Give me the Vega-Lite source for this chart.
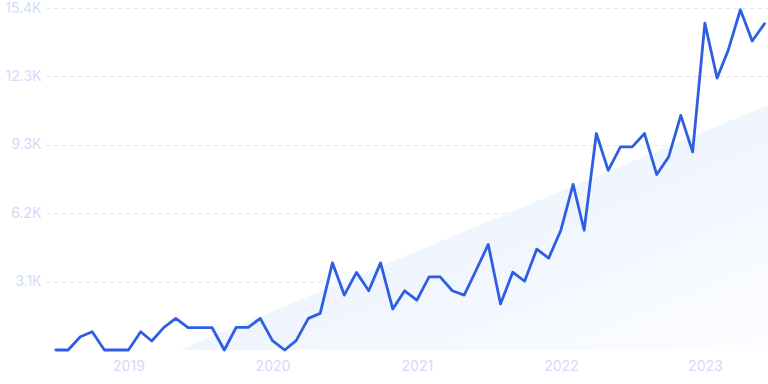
{
  "$schema": "https://vega.github.io/schema/vega-lite/v6.json",
  "width": 722,
  "height": 342,
  "autosize": {"type": "none"},
  "padding": {"left": 46, "top": 8, "right": 0, "bottom": 34},
  "background": "white",
  "config": {"view": {"stroke": null}, "font": "Inter"},
  "datasets": {
    "trend": [
      {"date": "2019-05-11", "value": 0},
      {"date": "2023-06-10", "value": 11046}
    ],
    "series": [
      {"date": "2018-07-01", "value": 0},
      {"date": "2018-08-01", "value": 0},
      {"date": "2018-09-01", "value": 600},
      {"date": "2018-10-01", "value": 825},
      {"date": "2018-11-01", "value": 0},
      {"date": "2018-12-01", "value": 0},
      {"date": "2019-01-01", "value": 0},
      {"date": "2019-02-01", "value": 825},
      {"date": "2019-03-01", "value": 405},
      {"date": "2019-04-01", "value": 1020},
      {"date": "2019-05-01", "value": 1425},
      {"date": "2019-06-01", "value": 1005},
      {"date": "2019-07-01", "value": 1005},
      {"date": "2019-08-01", "value": 1005},
      {"date": "2019-09-01", "value": 0},
      {"date": "2019-10-01", "value": 1020},
      {"date": "2019-11-01", "value": 1020},
      {"date": "2019-12-01", "value": 1425},
      {"date": "2020-01-01", "value": 420},
      {"date": "2020-02-01", "value": 0},
      {"date": "2020-03-01", "value": 420},
      {"date": "2020-04-01", "value": 1425},
      {"date": "2020-05-01", "value": 1650},
      {"date": "2020-06-01", "value": 3930},
      {"date": "2020-07-01", "value": 2475},
      {"date": "2020-08-01", "value": 3500},
      {"date": "2020-09-01", "value": 2670},
      {"date": "2020-10-01", "value": 3930},
      {"date": "2020-11-01", "value": 1845},
      {"date": "2020-12-01", "value": 2670},
      {"date": "2021-01-01", "value": 2250},
      {"date": "2021-02-01", "value": 3300},
      {"date": "2021-03-01", "value": 3300},
      {"date": "2021-04-01", "value": 2670},
      {"date": "2021-05-01", "value": 2475},
      {"date": "2021-06-01", "value": 3630},
      {"date": "2021-07-01", "value": 4760},
      {"date": "2021-08-01", "value": 2070},
      {"date": "2021-09-01", "value": 3510},
      {"date": "2021-10-01", "value": 3100},
      {"date": "2021-11-01", "value": 4550},
      {"date": "2021-12-01", "value": 4140},
      {"date": "2022-01-01", "value": 5400},
      {"date": "2022-02-01", "value": 7470},
      {"date": "2022-03-01", "value": 5400},
      {"date": "2022-04-01", "value": 9760},
      {"date": "2022-05-01", "value": 8100},
      {"date": "2022-06-01", "value": 9160},
      {"date": "2022-07-01", "value": 9160},
      {"date": "2022-08-01", "value": 9760},
      {"date": "2022-09-01", "value": 7910},
      {"date": "2022-10-01", "value": 8700},
      {"date": "2022-11-01", "value": 10580},
      {"date": "2022-12-01", "value": 8930},
      {"date": "2023-01-01", "value": 14740},
      {"date": "2023-02-01", "value": 12260},
      {"date": "2023-03-01", "value": 13510},
      {"date": "2023-04-01", "value": 15340},
      {"date": "2023-05-01", "value": 13930},
      {"date": "2023-06-01", "value": 14710}
    ]
  },
  "layer": [
    {
      "data": {"name": "trend"},
      "mark": {
        "type": "area",
        "clip": true,
        "color": {
          "gradient": "linear",
          "x1": 0, "y1": 0, "x2": 1, "y2": 1,
          "stops": [
            {"offset": 0, "color": "#e3edfc"},
            {"offset": 1, "color": "#fcfdff"}
          ]
        }
      },
      "encoding": {
        "x": {
          "field": "date", "type": "temporal",
          "scale": {
            "type": "utc",
            "domain": [
              {"year": 2018, "month": 6, "date": 6, "utc": true},
              {"year": 2023, "month": 6, "date": 10, "utc": true}
            ]
          },
          "axis": {
            "title": null,
            "values": [
              {"year": 2019, "month": 1, "date": 1, "utc": true},
              {"year": 2020, "month": 1, "date": 1, "utc": true},
              {"year": 2021, "month": 1, "date": 1, "utc": true},
              {"year": 2022, "month": 1, "date": 1, "utc": true},
              {"year": 2023, "month": 1, "date": 1, "utc": true}
            ],
            "format": "%Y",
            "formatType": "utc",
            "grid": false,
            "ticks": false,
            "domain": false,
            "labelPadding": 9,
            "labelFontSize": 14,
            "labelColor": "#d3dbf6",
            "labelFont": "Inter"
          }
        },
        "y": {
          "field": "value", "type": "quantitative",
          "scale": {"domain": [0, 15420], "nice": false, "zero": true},
          "axis": {
            "title": null,
            "values": [3084, 6168, 9252, 12336, 15420],
            "labelExpr": "format(datum.value / 1000, '.1f') + 'K'",
            "grid": true,
            "gridColor": "#dee4f7",
            "gridDash": [4, 4],
            "gridWidth": 1,
            "ticks": false,
            "domain": false,
            "labelPadding": 5,
            "labelFontSize": 14,
            "labelColor": "#d3dbf6",
            "labelFont": "Inter"
          }
        }
      }
    },
    {
      "data": {"name": "series"},
      "mark": {"type": "line", "color": "#2e5fe3", "strokeWidth": 2.8, "strokeJoin": "round", "strokeCap": "round"},
      "encoding": {
        "x": {"field": "date", "type": "temporal"},
        "y": {"field": "value", "type": "quantitative"}
      }
    }
  ]
}
